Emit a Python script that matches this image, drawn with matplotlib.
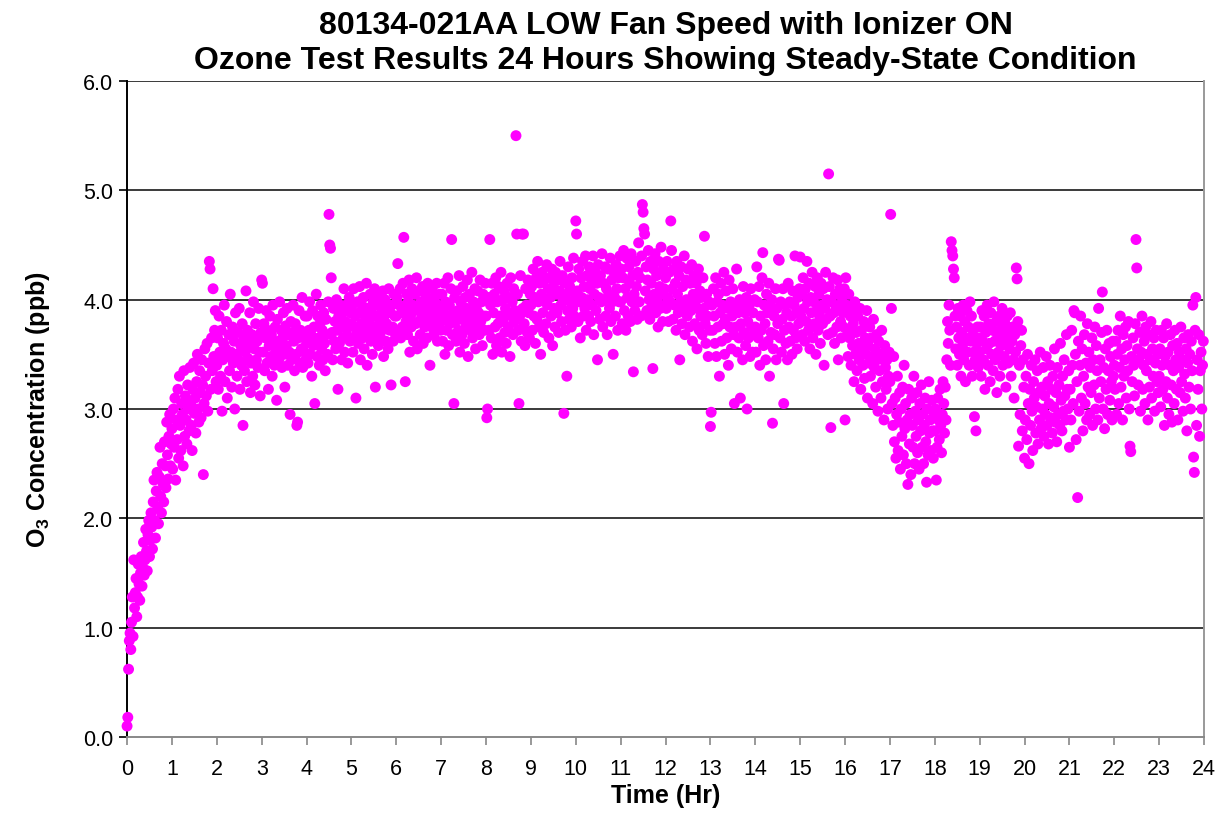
import numpy as np
import matplotlib.pyplot as plt

plt.rcParams['font.family'] = ['Liberation Sans', 'DejaVu Sans']
plt.rcParams['mathtext.fontset'] = 'custom'
plt.rcParams['mathtext.bf'] = 'Liberation Sans:bold'
plt.rcParams['mathtext.rm'] = 'Liberation Sans'

# O3 readings (ppb x 100), one string per hour, sampled evenly within the hour
hour_00 = "10 18 62 88 95 80 105 128 92 162 118 132 145 110 128 158 140 125 150 165 138 155 178 148 162 190 170 152 185 198 165 180 205 192 172 215 235 198 182 225 242 210 195 238 265 220 205 250 232 215 270 248 228 288 258 236 275 295 248 268"
hour_01 = "282 245 300 265 310 235 290 272 318 255 330 285 262 305 295 248 335 275 312 290 268 322 300 280 338 305 285 262 318 342 296 310 278 325 350 300 288 335 315 292 345 322 240 305 355 330 312 360 298 342 435 428 318 365 335 410 348 372 390 325"
hour_02 = "340 365 318 385 352 330 372 298 345 360 395 325 355 380 310 348 368 335 405 352 320 375 342 362 300 388 350 330 370 345 392 318 358 340 378 285 365 335 352 408 325 372 346 360 388 315 342 368 330 398 355 322 378 345 362 338 392 352 312 370"
hour_03 = "418 415 352 378 335 365 390 342 372 318 358 385 348 368 330 395 360 340 375 352 308 382 362 345 398 355 372 338 365 388 350 320 376 358 392 340 368 352 295 380 345 370 395 362 335 378 350 285 288 365 390 342 372 355 402 338 368 352 385 345"
hour_04 = "360 385 342 372 398 350 368 330 390 358 375 305 362 405 348 385 365 340 378 395 355 372 345 388 360 335 382 368 350 398 478 450 447 420 370 345 392 362 380 355 400 372 318 385 360 395 375 345 388 365 410 352 380 395 368 342 375 402 362 388"
hour_05 = "378 395 352 410 365 385 310 372 398 360 388 412 345 378 395 365 402 355 385 372 415 340 392 368 380 405 362 388 350 398 375 410 320 385 368 395 358 402 380 365 392 372 408 348 385 400 362 378 395 355 410 372 388 322 395 375 362 405 385 368"
hour_06 = "385 402 433 372 395 410 365 388 375 415 457 392 325 380 405 368 398 418 352 385 375 410 395 362 390 405 378 420 355 392 380 408 368 398 385 412 360 395 375 405 388 365 415 382 398 340 392 375 410 385 368 402 390 378 415 362 395 385 405 372"
hour_07 = "380 405 362 390 415 350 398 372 385 420 358 395 378 410 455 368 388 305 402 380 362 408 390 372 422 352 398 382 368 412 385 360 402 375 392 418 348 388 405 372 380 425 365 398 385 410 355 392 375 408 388 368 418 380 398 358 405 385 372 415"
hour_08 = "385 292 300 402 372 455 395 365 415 350 388 405 375 420 358 398 378 412 365 385 425 352 400 380 408 370 392 360 415 388 375 402 348 420 385 398 368 410 380 390 550 460 405 372 305 385 422 362 460 392 460 378 358 410 395 370 418 388 365 405"
hour_09 = "395 412 372 428 385 402 360 420 382 435 398 375 415 350 405 425 388 370 418 400 378 432 395 410 365 420 402 385 428 358 412 392 375 425 405 388 418 370 408 435 395 380 422 400 296 415 372 405 330 390 430 382 412 398 375 420 392 438 385 405"
hour_10 = "472 460 408 380 428 398 365 420 402 435 385 412 392 440 372 422 400 385 430 410 380 418 395 440 368 405 425 390 415 345 432 402 382 422 398 442 375 415 400 430 385 410 368 428 405 392 438 380 418 398 350 425 402 385 432 410 372 420 398 440"
hour_11 = "398 428 378 420 445 390 410 372 438 402 385 430 415 380 442 398 422 334 405 390 435 412 382 425 452 398 420 385 440 487 480 465 460 408 430 390 418 445 400 382 435 415 395 337 428 405 442 388 422 400 375 435 412 392 448 405 380 428 410 395"
hour_12 = "420 392 435 402 380 425 398 472 445 410 382 428 395 415 372 435 405 388 422 345 398 430 378 412 392 440 368 418 400 385 428 395 375 415 390 432 362 405 422 378 398 415 355 392 428 372 408 385 402 368 420 392 458 378 360 405 385 348 398 372"
hour_13 = "284 297 395 372 410 385 360 420 348 398 375 405 330 388 415 362 395 378 425 350 382 408 365 392 340 418 375 398 355 385 410 368 305 392 375 428 352 388 365 400 310 378 395 345 412 370 388 358 402 300 380 365 395 348 410 375 352 388 368 400"
hour_14 = "375 352 430 398 365 412 340 385 372 420 443 358 395 378 345 405 388 362 415 330 392 370 400 287 355 385 368 410 345 392 378 437 436 365 398 352 382 410 305 372 395 360 388 345 415 375 398 362 385 350 408 372 395 440 365 388 355 402 378 410"
hour_15 = "439 385 405 368 420 392 362 410 380 435 398 372 415 355 402 388 425 365 398 378 412 350 390 420 372 405 385 360 415 395 378 410 340 392 425 382 400 368 515 412 385 283 398 370 420 388 360 405 392 375 418 345 395 410 380 365 402 388 375 410"
hour_16 = "290 420 395 372 348 405 365 385 340 392 358 378 325 398 350 370 335 385 360 345 392 318 372 355 340 380 328 365 350 390 310 358 342 375 330 365 348 305 382 338 355 320 368 345 298 362 335 350 310 372 325 345 290 358 338 318 345 300 330 352"
hour_17 = "325 478 392 305 285 348 270 310 255 295 330 262 288 315 245 300 275 320 258 340 282 305 250 290 231 318 268 295 240 310 285 265 330 250 298 275 315 260 290 245 305 280 322 265 295 250 285 310 270 233 300 258 325 278 290 262 308 280 255 295"
hour_18 = "280 300 235 265 310 290 272 318 285 260 295 325 305 278 320 290 345 380 360 395 372 340 453 445 440 428 420 385 355 375 340 392 365 350 385 330 370 358 395 345 380 325 365 390 352 375 340 398 362 385 330 368 352 293 345 280 360 375 338 365"
hour_19 = "352 375 330 390 362 345 385 318 370 355 395 340 378 360 325 388 350 372 335 398 362 345 380 315 368 352 385 330 372 358 392 340 365 348 378 320 360 385 342 370 355 388 330 362 375 345 310 368 352 429 419 380 266 340 295 358 372 280 345 320"
hour_20 = "255 290 330 272 350 305 250 318 285 340 298 262 325 310 345 278 302 335 268 315 290 352 282 320 300 338 275 312 295 348 285 325 268 305 340 292 318 278 330 302 355 288 315 270 338 295 322 285 360 308 280 330 298 345 312 290 368 318 300 335"
hour_21 = "265 318 290 372 340 305 390 388 350 272 325 219 362 298 340 385 310 355 280 330 368 305 342 290 378 320 352 295 338 315 365 285 345 322 375 300 358 335 290 392 310 345 325 370 407 300 338 282 355 318 372 295 335 360 308 348 325 290 362 330"
hour_22 = "340 318 362 295 350 372 305 338 385 320 355 290 368 330 345 375 310 358 335 380 300 266 261 348 325 365 340 312 378 455 429 355 322 345 370 298 352 385 318 340 362 305 375 335 350 290 368 320 345 380 310 355 330 365 298 342 372 325 350 315"
hour_23 = "330 355 302 372 340 318 365 285 348 325 378 310 352 295 340 368 322 288 358 335 305 372 345 318 360 290 338 352 315 375 325 345 298 365 332 310 355 280 342 368 320 350 300 362 335 395 256 242 372 402 285 345 318 368 275 335 352 300 340 362"

hourly = [hour_00, hour_01, hour_02, hour_03, hour_04, hour_05, hour_06, hour_07,
          hour_08, hour_09, hour_10, hour_11, hour_12, hour_13, hour_14, hour_15,
          hour_16, hour_17, hour_18, hour_19, hour_20, hour_21, hour_22, hour_23]

x_ticks = list(range(0, 25))
y_ticks = [0.0, 1.0, 2.0, 3.0, 4.0, 5.0, 6.0]

time = []
ozone = []
for h, s in enumerate(hourly):
    vals = [int(v) / 100 for v in s.split()]
    n = len(vals)
    for i, v in enumerate(vals):
        time.append(h + i / n)
        ozone.append(v)
time = np.array(time)
ozone = np.array(ozone)

fig = plt.figure(figsize=(12.3, 8.2), dpi=100)
ax = fig.add_axes([0.1033, 0.1, 0.8756, 0.8])

for y in y_ticks[1:]:
    ax.axhline(y, color='#3a3a3a', lw=1.4, zorder=1)

ax.scatter(time, ozone, s=62, color='#ff00ff', edgecolors='none', zorder=3, clip_on=False)

ax.set_xlim(0, 24)
ax.set_ylim(0, 6)
ax.set_xticks(x_ticks)
ax.set_yticks(y_ticks)
ax.set_yticklabels([f"{v:.1f}" for v in y_ticks])

ax.spines['top'].set_visible(False)
ax.spines['left'].set_color('black')
ax.spines['left'].set_linewidth(1.4)
ax.spines['bottom'].set_color('#888888')
ax.spines['bottom'].set_linewidth(1.4)
ax.spines['right'].set_color('#999999')
ax.spines['right'].set_linewidth(1.4)

ax.tick_params(axis='x', direction='out', length=6, width=1.2, color='#888888', labelsize=15.5, pad=9)
ax.tick_params(axis='y', direction='out', length=6, width=1.2, color='black', labelsize=15.5, pad=4)

ax.set_xlabel("Time (Hr)", fontsize=18, fontweight='bold', labelpad=3)
ax.set_ylabel(r"O$_\mathbf{3}$ Concentration (ppb)", fontsize=18, fontweight='bold', labelpad=22)
ax.set_title("80134-021AA LOW Fan Speed with Ionizer ON\nOzone Test Results 24 Hours Showing Steady-State Condition",
             fontsize=23, fontweight='bold', pad=9, linespacing=1.25)

fig.savefig("out.png", dpi=100)
